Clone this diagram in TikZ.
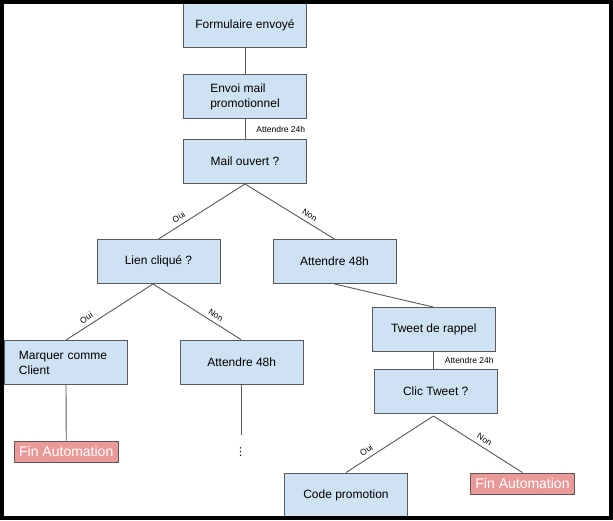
\documentclass[tikz,border=0pt]{standalone}
\usepackage{fontspec}
\setmainfont{Liberation Sans}
\newfontfamily\dejavu{DejaVu Sans}
\definecolor{boxblue}{HTML}{CFE2F3}
\definecolor{boxred}{HTML}{EA9999}
\definecolor{edgegray}{HTML}{595959}
\begin{document}
\begin{tikzpicture}[x=1pt,y=-1pt,
  box/.style={draw=edgegray, fill=boxblue, line width=0.9pt, minimum width=123pt, minimum height=44pt, inner sep=0pt, font=\fontsize{12}{15}\selectfont, align=center},
  endbox/.style={draw=edgegray, fill=boxred, line width=0.9pt, minimum width=103.5pt, minimum height=21pt, inner sep=0pt, text=white, font=\fontsize{14}{16}\selectfont},
  conn/.style={draw=edgegray, line width=0.9pt},
  lbl/.style={font=\fontsize{8.5}{10}\selectfont, inner sep=0pt},
  slbl/.style={lbl, sloped, above=4pt},
]
\useasboundingbox (0,0) rectangle (613,520);
\fill[white] (0,0) rectangle (613,520);

% nodes
\node[box] (f) at (245,25.5) {Formulaire envoyé};
\node[box, align=left] (e) at (245,96.5) {Envoi mail\\promotionnel};
\node[box] (mo) at (245,161.5) {Mail ouvert ?};
\node[box] (lc) at (158.5,261.5) {Lien cliqué ?};
\node[box] (a1) at (334.5,261.5) {Attendre 48h};
\node[box, text width=94pt, align=left] (mc) at (66,362.5) {Marquer comme\\Client};
\node[box] (a2) at (241.7,362) {Attendre 48h};
\node[box] (tw) at (433.8,329.5) {Tweet de rappel};
\node[box] (ct) at (435.7,391.2) {Clic Tweet ?};
\node[box] (cp) at (346,495) {Code promotion};
\node[endbox] (fin1) at (66.25,451.5) {Fin Automation};
\node[endbox] (fin2) at (522.5,483.5) {Fin Automation};
\node[font=\dejavu\fontsize{11}{11}\selectfont, inner sep=0pt] (dots) at (240.5,452) {⋮};

\coordinate (ctb) at (433.4,416);
\coordinate (a2end) at (241,435);

% connectors
\draw[conn] (f.south) -- (e.north);
\draw[conn] (e.south) -- node[lbl, anchor=west, xshift=11pt] {Attendre 24h} (mo.north);
\draw[conn] (mo.south) -- node[slbl, pos=0.72] {Oui} (lc.north);
\draw[conn] (mo.south) -- node[slbl, pos=0.68] {Non} (a1.north);
\draw[conn] (lc.south -| 153,0) -- node[slbl, pos=0.72] {Oui} (mc.north);
\draw[conn] (lc.south -| 153,0) -- node[slbl, pos=0.67] {Non} (a2.north -| 241,0);
\draw[conn] (a1.south) -- (tw.north -| 433.4,0);
\draw[conn] (tw.south -| 433.4,0) -- node[lbl, anchor=west, xshift=11pt] {Attendre 24h} (ct.north -| 433.4,0);
\draw[conn] (ctb) -- node[slbl, pos=0.72] {Oui} (cp.north);
\draw[conn] (ctb) -- node[slbl, pos=0.53] {Non} (fin2.north);
\draw[conn] (mc.south) -- (fin1.north);
\draw[conn] (a2.south -| a2end) -- (a2end);

% frame
\draw[black, line width=4pt] (2,2) rectangle (610.5,517.5);
\end{tikzpicture}
\end{document}
